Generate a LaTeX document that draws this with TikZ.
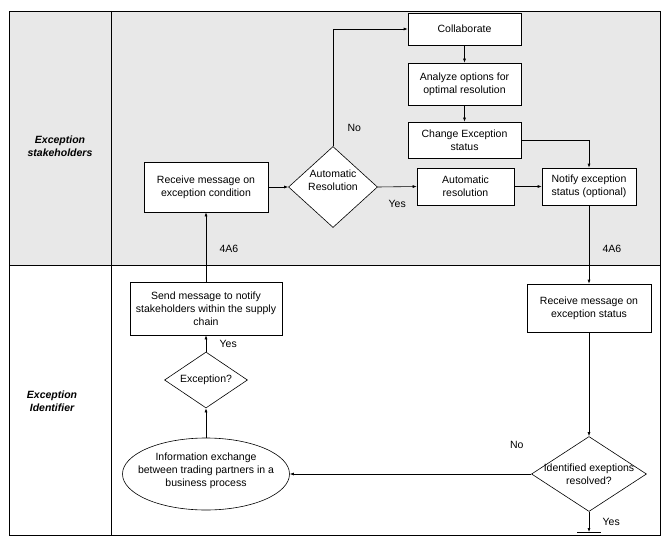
\documentclass[tikz,border=0pt]{standalone}
\usepackage{fontspec}
\setmainfont{Liberation Sans}
\usetikzlibrary{positioning,arrows.meta,shapes.geometric}

\begin{document}
\begin{tikzpicture}[x=1pt, y=-1pt, >={Latex[length=4pt,width=3pt]}, line width=0.6pt,
  font=\fontsize{10.5}{13}\selectfont,
  box/.style={draw, rectangle, fill=white, align=center, inner sep=0pt},
  decision/.style={draw, diamond, fill=white, inner sep=0pt},
  lane/.style={font=\fontsize{10.5}{13}\selectfont\bfseries\itshape, align=center}]
 \useasboundingbox (0,0) rectangle (668,540);
 \fill[black!9] (9,11) rectangle (660,265);
 \draw (9,11) rectangle (660,535);
 \draw (9,265) -- (660,265);
 \draw (111,11) -- (111,535);

 \node (stake) [lane] at (60,146) {Exception\\stakeholders};
 \node (ident) [lane] at (52,401) {Exception\\Identifier};

 \node (collab) [box, minimum width=113pt, minimum height=32pt] at (464.5,29) {Collaborate};
 \node (analyze) [box, minimum width=113pt, minimum height=42pt] at (464.5,84) {Analyze options for\\optimal resolution};
 \node (change) [box, minimum width=113pt, minimum height=36pt] at (464.5,140) {Change Exception\\status};
 \node (autores) [box, minimum width=97pt, minimum height=37pt] at (465.5,186.5) {Automatic\\resolution};
 \node (notify) [box, minimum width=94pt, minimum height=37pt] at (589,186.5) {Notify exception\\status (optional)};
 \node (recvcond) [box, minimum width=124pt, minimum height=50pt] at (206,187) {Receive message on\\exception condition};
 \node (autodec) [decision, minimum width=89pt, minimum height=81pt,
   label={[align=center, yshift=7pt]center:Automatic\\Resolution}] at (333,187) {};

 \node (sendmsg) [box, minimum width=152pt, minimum height=53pt] at (206,308.5) {Send message to notify\\stakeholders within the supply\\chain};
 \node (excdec) [decision, minimum width=83pt, minimum height=56pt,
   label={center:Exception?}] at (206,380) {};
 \node (infoex) [draw, ellipse, fill=white, inner sep=0pt, minimum width=167pt, minimum height=72pt,
   label={[align=center, yshift=3pt]center:Information exchange\\between trading partners in a\\business process}] at (206,474) {};
 \node (recvstat) [box, minimum width=124pt, minimum height=48pt] at (589,308) {Receive message on\\exception status};
 \node (resdec) [decision, minimum width=115pt, minimum height=75pt,
   label={[align=center]center:Identified exeptions\\resolved?}] at (589,474) {};
 \coordinate (term) at (589,532);

 \draw[->] (recvcond.east) -- (autodec.west);
 \draw[->] (autodec.north) |- (collab.west) node[pos=0.08, right=11pt] {No};
 \draw[->] (autodec.east) -- (autores.west) node[midway, below=10pt] {Yes};
 \draw[->] (collab) -- (analyze);
 \draw[->] (analyze) -- (change);
 \draw[->] (change.east) -| (notify.north);
 \draw[->] (autores) -- (notify);
 \draw[->] (notify.south) -- (recvstat.north) node[pos=0.56, right=10pt] {4A6};
 \draw[->] (sendmsg.north) -- (recvcond.south) node[pos=0.47, right=10pt] {4A6};
 \draw[->] (excdec.north) -- (sendmsg.south) node[midway, right=10pt] {Yes};
 \draw[->] (infoex.north) -- (excdec.south);
 \draw[->] (recvstat.south) -- (resdec.north);
 \draw[->] (resdec.west) -- (infoex.east) node[at start, above left=22pt and 4pt] {No};
 \draw[->] (resdec.south) -- (term) node[midway, right=10pt] {Yes};
 \draw ([xshift=-12pt]term) -- ([xshift=12pt]term);
\end{tikzpicture}
\end{document}
